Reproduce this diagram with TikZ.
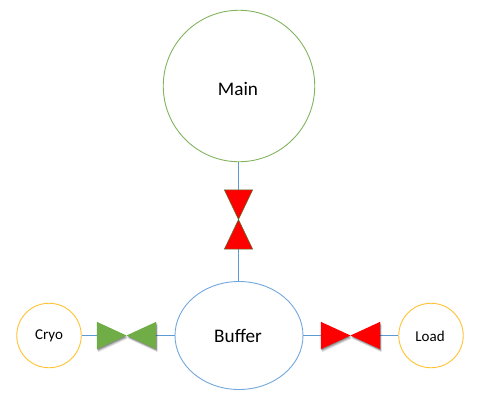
\documentclass[tikz,border=0pt]{standalone}
\usepackage{fontspec}
\setmainfont{Carlito}
\usetikzlibrary{shapes.geometric}
\definecolor{mainG}{RGB}{130,180,95}
\definecolor{bufB}{RGB}{115,168,222}
\definecolor{auxY}{RGB}{255,195,50}
\definecolor{linkB}{RGB}{91,155,213}
\definecolor{valveG}{RGB}{112,173,71}
\definecolor{valveR}{RGB}{255,0,0}
\tikzset{
  vessel/.style={draw=#1,line width=0.9pt,inner sep=0pt,fill=white},
  link/.style={draw=linkB,line width=0.9pt},
  valvebox/.style={inner sep=0pt,minimum width=#1}
}
\newcommand{\bowHoriz}[2]{%
  \foreach \ox/\oy/\a in {1.4/3.2/0.08,1.1/2.4/0.12,0.8/1.6/0.16,0.4/0.8/0.20}{
    \begin{scope}[every coordinate/.style={}]
    \fill[black,opacity=\a]
      ([shift={(\ox pt,-\oy pt)}]#1.north west) -- ([shift={(\ox pt,-\oy pt)}]#1.south east) --
      ([shift={(\ox pt,-\oy pt)}]#1.north east) -- ([shift={(\ox pt,-\oy pt)}]#1.south west) -- cycle;
    \end{scope}
  }
  \fill[#2] (#1.north west) -- (#1.south east) -- (#1.north east) -- (#1.south west) -- cycle;
}
\begin{document}
\begin{tikzpicture}[x=1pt,y=-1pt]
\useasboundingbox (0,0) rectangle (480,402);
\node[vessel=mainG,circle,minimum width=151.5pt] (main) at (239,86) {};
\node[font=\fontsize{19.2pt}{22pt}\selectfont] (mainlabel) at (238,88.5) {Main};
\node[vessel=bufB,ellipse,minimum width=128pt,minimum height=108pt] (buffer) at (239,335.5) {};
\node[font=\fontsize{19.2pt}{22pt}\selectfont] (bufferlabel) at (238,336) {Buffer};
\node[vessel=auxY,circle,minimum width=64.5pt] (cryo) at (49,335.5) {};
\node[font=\fontsize{15pt}{18pt}\selectfont] (cryolabel) at (49,336) {Cryo};
\node[vessel=auxY,circle,minimum width=64.5pt] (load) at (431,335.5) {};
\node[font=\fontsize{15pt}{18pt}\selectfont] (loadlabel) at (430,336) {Load};
\node[valvebox=28pt,minimum height=59pt] (vtop) at (238.5,219.5) {};
\node[valvebox=59pt,minimum height=27pt] (vleft) at (126.5,335.5) {};
\node[valvebox=59pt,minimum height=27pt] (vright) at (350.5,335.5) {};
\draw[link] (vtop.north |- main.south) -- (vtop.north);
\draw[link] (vtop.south) -- (vtop.south |- buffer.north);
\draw[link] (cryo) -- (vleft);
\draw[link] (vleft) -- (buffer);
\draw[link] (buffer) -- (vright);
\draw[link] (vright) -- (load);
\bowHoriz{vleft}{valveG}
\bowHoriz{vright}{valveR}
\filldraw[fill=valveR,draw=valveG!70!black,line width=0.5pt] (vtop.north west) -- (vtop.north east) -- (vtop.south west) -- (vtop.south east) -- cycle;
\end{tikzpicture}
\end{document}
